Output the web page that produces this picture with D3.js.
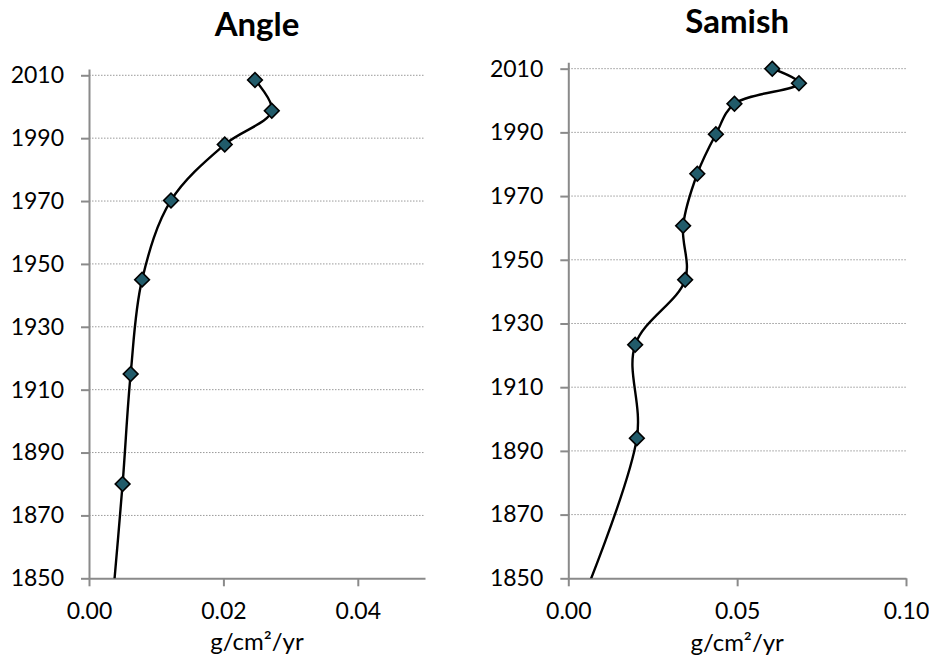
<!DOCTYPE html>
<html>
<head>
<meta charset="utf-8">
<script src="https://cdn.jsdelivr.net/npm/d3@7"></script>
<style>
  html, body { margin: 0; padding: 0; background: #fff; }
  svg { display: block; font-family: Lato, "Open Sans", sans-serif; }
</style>
</head>
<body>
<svg id="chart" width="929" height="660"></svg>
<script>
// Mass accumulation rate (g/cm²/yr) versus year for two sediment cores.
// The first entry of each series lies below 1850, so only its line is drawn.
const yearTicks = [1850, 1870, 1890, 1910, 1930, 1950, 1970, 1990, 2010];

const angleYears  = [1840, 1880, 1915, 1945, 1970.2, 1988, 1998.7, 2008.5];
const angleValues = [0.0034, 0.0050, 0.0062, 0.0079, 0.0122, 0.0202, 0.0272, 0.0247];
const angleXTicks = [0, 0.02, 0.04];

const samishYears  = [1840, 1894, 1923.3, 1943.7, 1960.7, 1977, 1989.4, 1999, 2005.4, 2010];
const samishValues = [0.0030, 0.0203, 0.0198, 0.0346, 0.0340, 0.0382, 0.0437, 0.0492, 0.0683, 0.0604];
const samishXTicks = [0, 0.05, 0.10];

const svg = d3.select("#chart");
const axisColor = "#8a8a8a";
const gridColor = "#9a9a9a";
const markerFill = "#215b6a";

function panel(opts) {
  const { id, title, titleY, years, values, xMax, xTicks, left, right, top, bottom, yMax, labelY } = opts;
  const x = d3.scaleLinear().domain([0, xMax]).range([left, right]);
  const y = d3.scaleLinear().domain([1850, yMax]).range([bottom, top]);
  const g = svg.append("g");

  // dotted horizontal gridlines
  g.selectAll(".grid").data(yearTicks.slice(1)).join("line")
    .attr("x1", left).attr("x2", right)
    .attr("y1", d => y(d)).attr("y2", d => y(d))
    .attr("stroke", gridColor).attr("stroke-width", 1)
    .attr("stroke-dasharray", "1.5,1.5");

  // y axis
  const yAxis = g.append("g").attr("transform", `translate(${left},0)`)
    .call(d3.axisLeft(y).tickValues(yearTicks).tickFormat(d3.format("d"))
      .tickSize(8).tickSizeOuter(0).tickPadding(17));
  yAxis.select(".domain").attr("stroke", axisColor).attr("stroke-width", 2);
  yAxis.selectAll(".tick line").attr("stroke", axisColor).attr("stroke-width", 2);
  yAxis.selectAll("text").attr("font-size", 23).attr("fill", "#000")
    .attr("font-family", "Lato, sans-serif");

  // x axis
  const xAxis = g.append("g").attr("transform", `translate(0,${bottom})`)
    .call(d3.axisBottom(x).tickValues(xTicks).tickFormat(d3.format(".2f"))
      .tickSize(8).tickSizeOuter(0).tickPadding(16));
  xAxis.select(".domain").attr("stroke", axisColor).attr("stroke-width", 2);
  xAxis.selectAll(".tick line").attr("stroke", axisColor).attr("stroke-width", 2);
  xAxis.selectAll("text").attr("font-size", 23).attr("fill", "#000")
    .attr("font-family", "Lato, sans-serif");

  // clip the series to the plot area
  svg.append("clipPath").attr("id", id).append("rect")
    .attr("x", left).attr("y", top - 20)
    .attr("width", right - left).attr("height", bottom - top + 20);

  const pts = years.map((yr, i) => ({ yr, v: values[i] }));
  const line = d3.line().x(d => x(d.v)).y(d => y(d.yr))
    .curve(d3.curveCatmullRom.alpha(0.5));
  g.append("path").datum(pts)
    .attr("clip-path", `url(#${id})`)
    .attr("d", line)
    .attr("fill", "none").attr("stroke", "#000").attr("stroke-width", 2.4);

  const diamond = d3.symbol().type(d3.symbolSquare).size(108);
  g.selectAll(".pt").data(pts.filter(d => d.yr >= 1850)).join("path")
    .attr("d", diamond)
    .attr("transform", d => `translate(${x(d.v)},${y(d.yr)}) rotate(45)`)
    .attr("fill", markerFill).attr("stroke", "#000").attr("stroke-width", 1.6);

  // title
  g.append("text").attr("x", (left + right) / 2).attr("y", titleY)
    .attr("text-anchor", "middle").attr("font-size", 33).attr("font-weight", 700)
    .text(title);

  // x axis label
  g.append("text").attr("x", (left + right) / 2).attr("y", labelY)
    .attr("text-anchor", "middle").attr("font-size", 24)
    .text("g/cm²/yr");
}

panel({ id: "clipA", title: "Angle", titleY: 36, years: angleYears, values: angleValues,
  xMax: 0.05, xTicks: angleXTicks, left: 89, right: 425, top: 69, bottom: 578.3,
  yMax: 2012, labelY: 650 });

panel({ id: "clipS", title: "Samish", titleY: 33, years: samishYears, values: samishValues,
  xMax: 0.10, xTicks: samishXTicks, left: 568.3, right: 906, top: 62.3, bottom: 578.3,
  yMax: 2012, labelY: 651 });
</script>
</body>
</html>
